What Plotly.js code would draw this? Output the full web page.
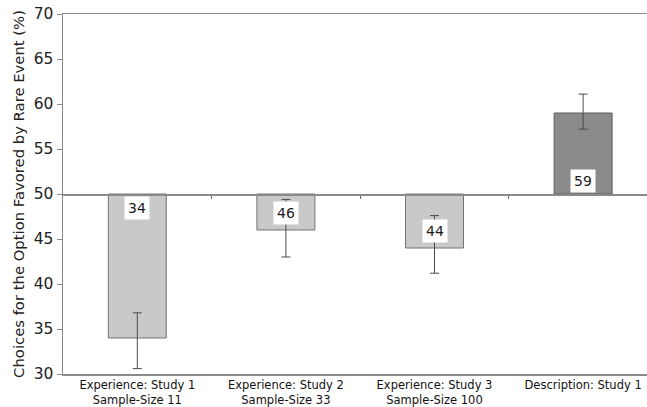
<!DOCTYPE html>
<html>
<head>
<meta charset="utf-8">
<script src="https://cdn.plot.ly/plotly-3.0.1.min.js"></script>
<style>
  html, body { margin: 0; padding: 0; background: #fff; }
  #chart { width: 647px; height: 407px; }
</style>
</head>
<body>
<div id="chart"></div>
<script>
// Conditions, mean choice rates and error-bar extents
const categories = [
  'Experience: Study 1<br>Sample-Size 11',
  'Experience: Study 2<br>Sample-Size 33',
  'Experience: Study 3<br>Sample-Size 100',
  'Description: Study 1'
];
const values = [34, 46, 44, 59];
const errUp = [2.8, 3.4, 3.6, 2.1];
const errDown = [3.4, 3.0, 2.8, 1.8];
const baseline = 50;

// label placement: near the baseline or near the bar tip
const labelAnchor = ['base', 'tip', 'tip', 'base'];

const fillColors = values.map((v, i) => i === 3 ? '#8b8b8b' : '#c9c9c9');
const lineColors = values.map((v, i) => i === 3 ? '#5c5c5c' : '#727272');

const xIdx = categories.map((c, i) => i);

const bars = {
  type: 'bar',
  x: xIdx,
  y: values.map(v => v - baseline),
  base: baseline,
  width: 0.39,
  marker: { color: fillColors, line: { color: lineColors, width: 1 } },
  error_y: {
    type: 'data', symmetric: false,
    array: errUp, arrayminus: errDown,
    color: '#4a4a4a', thickness: 1, width: 4.5
  },
  hoverinfo: 'skip',
  showlegend: false
};

// carries the secondary axis drawn along the 50% line
const baselineTrace = {
  type: 'scatter', mode: 'none',
  x: xIdx, y: values, xaxis: 'x2',
  hoverinfo: 'skip', showlegend: false
};

const annotations = values.map((v, i) => {
  const dir = v < baseline ? -1 : 1;
  const y = labelAnchor[i] === 'base' ? baseline + dir * 1.5 : v - dir * 1.9;
  return {
    x: i, y: y, xref: 'x', yref: 'y',
    text: String(v), showarrow: false,
    bgcolor: '#ffffff', borderpad: 3,
    font: { family: 'DejaVu Sans, Verdana, sans-serif', size: 14, color: '#1a1a1a' }
  };
});

const layout = {
  width: 647, height: 407,
  margin: { l: 63, r: 0, t: 14, b: 33 },
  paper_bgcolor: '#ffffff', plot_bgcolor: '#ffffff',
  font: { family: 'DejaVu Sans, Verdana, sans-serif', color: '#222' },
  xaxis: {
    range: [-0.5, 3.43],
    tickvals: xIdx, ticktext: categories,
    tickfont: { size: 11.5, color: '#111' },
    showgrid: false, zeroline: false,
    showline: true, linecolor: '#8a8a8a', linewidth: 1.5,
    mirror: true, ticks: '', fixedrange: true
  },
  xaxis2: {
    overlaying: 'x', anchor: 'free', position: 0.5,
    range: [-0.5, 3.43],
    tickvals: [0.5, 1.5, 2.5],
    showticklabels: false, showgrid: false, zeroline: false,
    showline: true, linecolor: '#8a8a8a', linewidth: 1.5,
    ticks: 'outside', ticklen: 3, tickcolor: '#666', tickwidth: 1
  },
  yaxis: {
    range: [30, 70],
    tickvals: [30, 35, 40, 45, 50, 55, 60, 65, 70],
    tickfont: { size: 15.5, color: '#222' },
    ticks: 'outside', ticklen: 5, tickcolor: '#8a8a8a',
    showgrid: false, zeroline: false,
    showline: true, linecolor: '#8a8a8a', linewidth: 1.5,
    title: {
      text: 'Choices for the Option Favored by Rare Event (%)',
      font: { size: 14.8, color: '#222' },
      standoff: 5
    }
  },
  annotations: annotations
};

Plotly.newPlot('chart', [bars, baselineTrace], layout, { displayModeBar: false, staticPlot: true });
</script>
</body>
</html>
